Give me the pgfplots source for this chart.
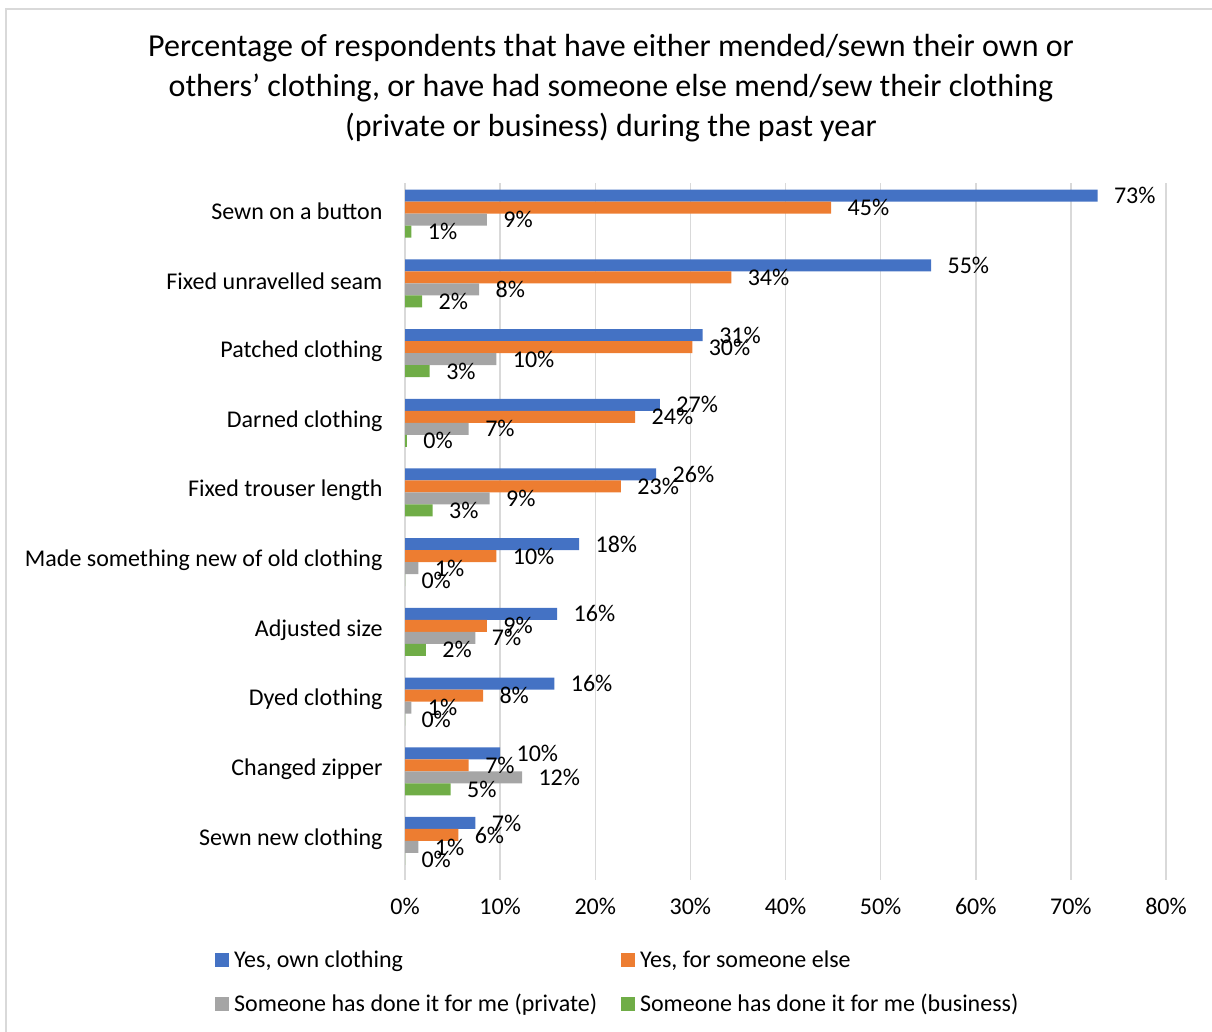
\documentclass[border=0pt]{standalone}
\usepackage{pgfplots}
\pgfplotsset{compat=1.18}
\usepackage{fontspec}
\setmainfont{Carlito}

\definecolor{cblue}{HTML}{4472C4}
\definecolor{corange}{HTML}{ED7D31}
\definecolor{cgray}{HTML}{A5A5A5}
\definecolor{cgreen}{HTML}{70AD47}
\definecolor{gridc}{HTML}{D9D9D9}

% categories, top to bottom = 9 .. 0
\pgfplotstableread{
pos own other private business
9 72.8 44.8 8.6 0.67
8 55.3 34.3 7.8 1.8
7 31.3 30.2 9.6 2.6
6 26.8 24.2 6.7 0.2
5 26.4 22.7 8.9 2.9
4 18.3 9.6 1.4 0.0
3 16.0 8.6 7.4 2.2
2 15.7 8.2 0.67 0.0
1 10.0 6.7 12.3 4.8
0 7.4 5.6 1.4 0.0
}\datatab

\begin{document}
\begin{tikzpicture}
\path[use as bounding box] (0pt,0pt) rectangle (1212pt,1032pt);
\draw[gridc, line width=1.5pt] (6pt,-10pt) -- (6pt,1023pt) -- (1222pt,1023pt);
\node[align=center, font=\fontsize{32}{40}\selectfont] at (611pt,944pt)
  {Percentage of respondents that have either mended/sewn their own or\\
   others' clothing, or have had someone else mend/sew their clothing\\
   (private or business) during the past year};
\begin{axis}[
  at={(405pt,152pt)}, anchor=south west,
  width=761pt, height=697pt, scale only axis,
  xmin=0, xmax=80, ymin=-0.56, ymax=9.44,
  xbar, bar width=12pt,
  axis line style={draw=none},
  major tick length=0pt,
  xtick={0,10,...,80},
  xticklabel={\pgfmathprintnumber{\tick}\%},
  xticklabel style={font=\fontsize{24}{28}\selectfont, yshift=-15pt},
  /pgf/number format/assume math mode=true,
  xmajorgrids, grid style={gridc, line width=1.5pt},
  ytick={0,...,9},
  yticklabels={Sewn new clothing, Changed zipper, Dyed clothing, Adjusted size,
    Made something new of old clothing, Fixed trouser length, Darned clothing,
    Patched clothing, Fixed unravelled seam, Sewn on a button},
  yticklabel style={font=\fontsize{24}{28}\selectfont, xshift=-19pt, yshift=2pt},
  nodes near coords={\pgfmathprintnumber[fixed,precision=0]{\pgfplotspointmeta}\%},
  nodes near coords style={font=\fontsize{24}{28}\selectfont, anchor=west, xshift=13pt,
    /pgf/number format/assume math mode=true},
  every axis plot/.append style={draw=none},
  legend columns=2,
  legend cell align=left,
  legend style={draw=none, fill=none, at={(-0.2497,-0.1463)}, anchor=west,
    font=\fontsize{24}{28}\selectfont, row sep=21pt, inner sep=0pt,
    nodes={inner sep=2pt},
    /tikz/every odd column/.append style={column sep=3pt},
    /tikz/every even column/.append style={column sep=22pt}},
  legend image code/.code={\fill[#1] (0pt,-7pt) rectangle (14pt,7pt);},
  clip=false,
]
\addplot[fill=cblue, bar shift=18pt] table[x=own, y=pos] {\datatab};
\addplot[fill=corange, bar shift=6pt] table[x=other, y=pos] {\datatab};
\addplot[fill=cgray, bar shift=-6pt] table[x=private, y=pos] {\datatab};
\addplot[fill=cgreen, bar shift=-18pt] table[x=business, y=pos] {\datatab};
\legend{{Yes, own clothing}, {Yes, for someone else}, {Someone has done it for me (private)}, {Someone has done it for me (business)}}
\end{axis}
\end{tikzpicture}
\end{document}
